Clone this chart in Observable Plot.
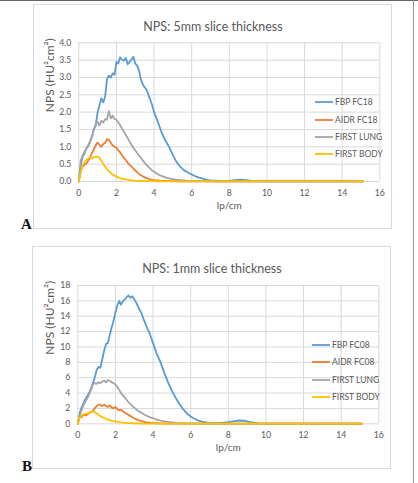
<!DOCTYPE html>
<html>
<head>
<meta charset="utf-8">
<script src="https://cdn.jsdelivr.net/npm/d3@7"></script>
<script src="https://cdn.jsdelivr.net/npm/@observablehq/plot@0.6"></script>
<style>
  body { margin: 0; background: #fff; width: 418px; height: 483px; position: relative; overflow: hidden; font-family: Lato, "Open Sans", sans-serif; }
  .chart { position: absolute; }
  .chart svg { display: block; }
  .box { position: absolute; border: 1px solid #d9d9d9; box-sizing: border-box; pointer-events: none; }
  .legend-row { position: absolute; height: 12px; display: flex; align-items: center; white-space: nowrap; font-size: 8.5px; color: #595959; }
  .legend-row span { margin-left: 2px; }
  .letter { position: absolute; font: bold 15px "Liberation Serif", "Times New Roman", serif; color: #111; line-height: 1; }
  #edgeTop { position: absolute; left: 0; top: 0; width: 418px; height: 1px; background: #666; }
  #edgeRight { position: absolute; left: 413px; top: 0; width: 1px; height: 483px; background: #999; }
</style>
</head>
<body>
<div id="edgeTop"></div>
<div id="edgeRight"></div>
<script>
// Spatial frequency grid (lp/cm), shared by both panels
const lp = [0, 0.1, 0.2, 0.3, 0.4, 0.5, 0.6, 0.7, 0.8, 0.9,
  1.0, 1.1, 1.2, 1.3, 1.4, 1.5, 1.6, 1.7, 1.8, 1.9,
  2.0, 2.1, 2.2, 2.3, 2.4, 2.5, 2.6, 2.7, 2.8, 2.9,
  3.0, 3.1, 3.2, 3.3, 3.4, 3.5, 3.6, 3.7, 3.8, 3.9, 4.0,
  4.2, 4.4, 4.6, 4.8, 5.0, 5.2, 5.4, 5.6, 5.8, 6.0, 6.2, 6.4, 6.6, 6.8, 7.0,
  7.5, 8.0, 8.3, 8.6, 8.9, 9.2, 9.6, 10, 11, 12, 13, 14, 15.1];

// Panel A: 5 mm slice thickness (HU²cm²)
const fbpA = [0, 0.45, 0.72, 0.80, 0.95, 1.02, 1.15, 1.30, 1.50, 1.62,
  2.00, 2.20, 2.40, 2.28, 2.45, 2.95, 3.05, 3.00, 3.12, 3.08,
  3.45, 3.40, 3.58, 3.52, 3.48, 3.56, 3.38, 3.45, 3.52, 3.60,
  3.40, 3.35, 3.20, 2.95, 2.80, 2.72, 2.65, 2.50, 2.36, 2.20, 2.00,
  1.72, 1.42, 1.18, 1.00, 0.76, 0.56, 0.42, 0.32, 0.26, 0.20, 0.15, 0.11, 0.08, 0.05, 0.03,
  0.015, 0.02, 0.04, 0.05, 0.04, 0.02, 0.01, 0.006, 0.004, 0.003, 0.002, 0.002, 0.002];
const aidrA = [0, 0.33, 0.42, 0.48, 0.52, 0.60, 0.70, 0.82, 0.92, 1.05,
  1.12, 1.06, 1.00, 1.08, 1.12, 1.22, 1.20, 1.12, 1.04, 1.00,
  0.98, 0.90, 0.84, 0.76, 0.68, 0.62, 0.54, 0.48, 0.43, 0.38,
  0.32, 0.27, 0.22, 0.18, 0.15, 0.12, 0.10, 0.08, 0.06, 0.05, 0.04,
  0.03, 0.02, 0.015, 0.01, 0.008, 0.006, 0.005, 0.004, 0.004, 0.003, 0.003, 0.003, 0.002, 0.002, 0.002,
  0.002, 0.002, 0.002, 0.002, 0.002, 0.002, 0.002, 0.002, 0.002, 0.002, 0.002, 0.002, 0.002];
const lungA = [0, 0.60, 0.75, 0.85, 0.95, 1.05, 1.15, 1.30, 1.50, 1.65,
  1.72, 1.62, 1.75, 1.70, 1.80, 1.78, 2.03, 1.82, 1.90, 1.80,
  1.78, 1.70, 1.62, 1.52, 1.44, 1.34, 1.25, 1.15, 1.06, 0.97,
  0.90, 0.82, 0.75, 0.68, 0.61, 0.54, 0.48, 0.42, 0.37, 0.32, 0.28,
  0.21, 0.16, 0.12, 0.09, 0.07, 0.05, 0.04, 0.03, 0.02, 0.015, 0.012, 0.01, 0.008, 0.007, 0.006,
  0.005, 0.004, 0.004, 0.004, 0.003, 0.003, 0.003, 0.003, 0.002, 0.002, 0.002, 0.002, 0.002];
const bodyA = [0, 0.25, 0.45, 0.55, 0.62, 0.66, 0.70, 0.66, 0.70, 0.71,
  0.72, 0.68, 0.60, 0.50, 0.43, 0.36, 0.30, 0.25, 0.20, 0.17,
  0.14, 0.12, 0.10, 0.08, 0.07, 0.06, 0.05, 0.04, 0.03, 0.03,
  0.02, 0.02, 0.015, 0.015, 0.012, 0.01, 0.01, 0.01, 0.008, 0.008, 0.008,
  0.007, 0.007, 0.006, 0.006, 0.006, 0.005, 0.005, 0.005, 0.005, 0.005, 0.004, 0.004, 0.004, 0.004, 0.004,
  0.004, 0.004, 0.004, 0.004, 0.003, 0.003, 0.003, 0.003, 0.003, 0.003, 0.003, 0.003, 0.003];

// Panel B: 1 mm slice thickness (HU²cm²)
const fbpB = [0, 1.4, 2.1, 2.7, 3.2, 3.6, 4.0, 4.6, 5.3, 6.0,
  7.0, 7.4, 7.3, 8.4, 9.5, 10.4, 10.5, 11.6, 12.5, 13.4,
  14.5, 15.4, 16.0, 15.5, 16.0, 16.2, 16.5, 16.7, 16.4, 16.6,
  16.2, 15.8, 15.3, 14.8, 14.3, 13.6, 13.0, 12.4, 11.9, 11.2, 10.5,
  9.1, 8.0, 6.6, 5.4, 4.3, 3.4, 2.6, 1.9, 1.35, 0.95, 0.65, 0.42, 0.28, 0.17, 0.10,
  0.08, 0.22, 0.35, 0.43, 0.38, 0.20, 0.06, 0.03, 0.02, 0.02, 0.01, 0.01, 0.01];
const aidrB = [0, 1.0, 0.85, 1.2, 1.1, 1.2, 1.4, 1.5, 1.7, 2.0,
  2.3, 2.5, 2.5, 2.3, 2.5, 2.3, 2.2, 2.4, 2.1, 2.0,
  2.2, 1.9, 1.75, 1.85, 1.6, 1.45, 1.3, 1.15, 1.0, 0.85,
  0.72, 0.6, 0.5, 0.42, 0.35, 0.28, 0.23, 0.19, 0.15, 0.12, 0.10,
  0.07, 0.05, 0.04, 0.03, 0.025, 0.02, 0.02, 0.015, 0.015, 0.012, 0.01, 0.01, 0.01, 0.01, 0.01,
  0.01, 0.01, 0.01, 0.01, 0.01, 0.01, 0.008, 0.008, 0.008, 0.008, 0.008, 0.008, 0.008];
const lungB = [0, 1.0, 1.8, 2.4, 2.9, 3.3, 3.8, 4.4, 5.1, 5.3,
  5.2, 5.4, 5.3, 5.5, 5.6, 5.4, 5.7, 5.6, 5.4, 5.3,
  5.1, 4.8, 4.4, 4.0, 3.7, 3.4, 3.1, 2.8, 2.55, 2.3,
  2.1, 1.9, 1.7, 1.55, 1.4, 1.25, 1.12, 1.0, 0.9, 0.8, 0.72,
  0.55, 0.42, 0.32, 0.24, 0.18, 0.13, 0.10, 0.08, 0.06, 0.05, 0.04, 0.035, 0.03, 0.03, 0.025,
  0.02, 0.02, 0.02, 0.02, 0.02, 0.02, 0.015, 0.015, 0.015, 0.01, 0.01, 0.01, 0.01];
const bodyB = [0, 0.85, 1.05, 1.2, 1.3, 1.35, 1.42, 1.5, 1.6, 1.55,
  1.35, 1.2, 1.0, 0.88, 0.75, 0.64, 0.55, 0.47, 0.4, 0.34,
  0.3, 0.25, 0.21, 0.18, 0.15, 0.13, 0.11, 0.09, 0.08, 0.07,
  0.06, 0.05, 0.045, 0.04, 0.035, 0.03, 0.03, 0.025, 0.025, 0.02, 0.02,
  0.02, 0.02, 0.02, 0.02, 0.02, 0.02, 0.02, 0.02, 0.02, 0.02, 0.02, 0.02, 0.02, 0.02, 0.02,
  0.02, 0.02, 0.02, 0.02, 0.02, 0.02, 0.02, 0.02, 0.02, 0.02, 0.02, 0.02, 0.02];

const namesA = ["FBP FC18", "AIDR FC18", "FIRST LUNG", "FIRST BODY"];
const namesB = ["FBP FC08", "AIDR FC08", "FIRST LUNG", "FIRST BODY"];
const colors = ["#5b9bd5", "#ed7d31", "#a5a5a5", "#ffc000"];

const xTicks = [0, 2, 4, 6, 8, 10, 12, 14, 16];
const yTicksA = [0, 0.5, 1.0, 1.5, 2.0, 2.5, 3.0, 3.5, 4.0];
const yTicksB = [0, 2, 4, 6, 8, 10, 12, 14, 16, 18];

const titleA = "NPS: 5mm slice thickness";
const titleB = "NPS: 1mm slice thickness";
const yLabel = "NPS (HU²cm²)";
const xLabel = "lp/cm";

function panel({left, top, width, height, margin, series, yTicks, yFormat, title, titleDx, titleDy, yLabelDx, xLabelDy}) {
  const lines = series.map((vals, k) =>
    Plot.line(lp.map((x, i) => ({x, y: vals[i]})), {x: "x", y: "y", stroke: colors[k], strokeWidth: 1.8})
  );
  const svg = Plot.plot({
    width, height,
    marginLeft: margin[3], marginRight: margin[1], marginTop: margin[0], marginBottom: margin[2],
    x: {domain: [0, 16]},
    y: {domain: [0, yTicks[yTicks.length - 1]]},
    style: {fontFamily: "Lato, 'Open Sans', sans-serif", fontSize: "8.5px", color: "#595959", background: "#fff", overflow: "visible"},
    marks: [
      Plot.gridX({ticks: xTicks, stroke: "#d9d9d9", strokeOpacity: 1}),
      Plot.gridY({ticks: yTicks, stroke: "#d9d9d9", strokeOpacity: 1}),
      ...lines,
      Plot.axisX({ticks: xTicks, tickSize: 0, tickPadding: 8.5, fontSize: 8.7, label: null}),
      Plot.axisY({ticks: yTicks, tickSize: 0, tickPadding: 7.5, fontSize: 8.7, tickFormat: yFormat, label: null}),
      Plot.text([title], {text: d => d, frameAnchor: "top", dx: titleDx, dy: titleDy, fontSize: 12.5}),
      Plot.text([yLabel], {text: d => d, frameAnchor: "left", rotate: -90, dx: yLabelDx, fontSize: 12}),
      Plot.text([xLabel], {text: d => d, frameAnchor: "bottom", dy: xLabelDy, fontSize: 10})
    ]
  });
  const holder = document.createElement("div");
  holder.className = "chart";
  holder.style.left = left + "px";
  holder.style.top = top + "px";
  holder.appendChild(svg);
  document.body.appendChild(holder);
  const box = document.createElement("div");
  box.className = "box";
  Object.assign(box.style, {left: left + "px", top: top + "px", width: width + "px", height: height + "px"});
  document.body.appendChild(box);
}

function legend(names, x, rows) {
  names.forEach((name, k) => {
    const row = document.createElement("div");
    row.className = "legend-row";
    row.style.left = x + "px";
    row.style.top = (rows[k] - 6) + "px";
    row.innerHTML = `<svg width="18" height="12"><line x1="0" x2="18" y1="6" y2="6" stroke="${colors[k]}" stroke-width="1.8"/></svg><span>${name}</span>`;
    document.body.appendChild(row);
  });
}

function letter(text, x, y) {
  const el = document.createElement("div");
  el.className = "letter";
  el.textContent = text;
  el.style.left = x + "px";
  el.style.top = y + "px";
  document.body.appendChild(el);
}

panel({
  left: 33, top: 4, width: 359, height: 225, margin: [38.3, 12.7, 48, 45.3],
  series: [fbpA, aidrA, lungA, bodyA], yTicks: yTicksA, yFormat: d3.format(".1f"),
  title: titleA, titleDx: -16.3, titleDy: -21, yLabelDx: -29, xLabelDy: 27
});
legend(namesA, 315, [102, 119.5, 137, 154]);
letter("A", 21, 217);

panel({
  left: 32, top: 246, width: 359, height: 223, margin: [39, 12.7, 45.7, 45.3],
  series: [fbpB, aidrB, lungB, bodyB], yTicks: yTicksB, yFormat: d3.format("d"),
  title: titleB, titleDx: -16.3, titleDy: -21, yLabelDx: -28, xLabelDy: 27.4
});
legend(namesB, 312, [345, 362.3, 379.7, 397]);
letter("B", 22, 459);
</script>
</body>
</html>
